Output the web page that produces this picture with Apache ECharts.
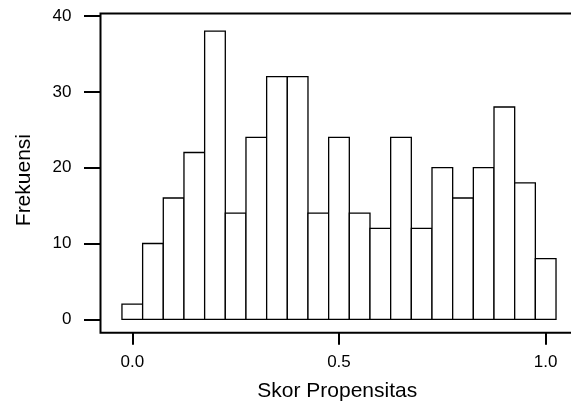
<!DOCTYPE html>
<html>
<head>
<meta charset="utf-8">
<script src="https://cdn.jsdelivr.net/npm/echarts@6/dist/echarts.min.js"></script>
<style>
html,body{margin:0;padding:0;background:#fff;}
#chart{width:571px;height:403px;}
</style>
</head>
<body>
<div id="chart"></div>
<script>
// ---- data ----
var binCenters = [0.00, 0.05, 0.10, 0.15, 0.20, 0.25, 0.30, 0.35, 0.40, 0.45, 0.50,
                  0.55, 0.60, 0.65, 0.70, 0.75, 0.80, 0.85, 0.90, 0.95, 1.00];
var counts = [2, 10, 16, 22, 38, 14, 24, 32, 32, 14, 24, 14, 12, 24, 12, 20, 16, 20, 28, 18, 8];
var binWidth = 0.05;
var yTicks = [0, 10, 20, 30, 40];
var xTicks = [0.0, 0.5, 1.0];
var xTitle = 'Skor Propensitas';
var yTitle = 'Frekuensi';

var seriesData = binCenters.map(function (c, i) {
  return [c - binWidth / 2, c + binWidth / 2, counts[i]];
});

var FONT = '"Liberation Sans", Arial, Helvetica, sans-serif';
var chart = echarts.init(document.getElementById('chart'), null, {renderer: 'canvas'});

chart.setOption({
  animation: false,
  backgroundColor: '#fff',
  grid: {
    left: 100.5, top: 13.5, width: 473.5, height: 319.2,
    outerBoundsMode: 'none', containLabel: false,
    show: true, borderColor: '#000', borderWidth: 2, backgroundColor: 'transparent'
  },
  xAxis: {
    type: 'value',
    min: -0.0769, max: 1.0685,
    splitLine: {show: false},
    axisLine: {show: false, onZero: false},
    axisTick: {show: true, customValues: xTicks, length: 12, lineStyle: {color: '#000', width: 2}},
    axisLabel: {
      customValues: xTicks, margin: 21, color: '#000', fontSize: 17, fontFamily: FONT,
      formatter: function (v) { return v.toFixed(1); }
    },
    name: xTitle, nameLocation: 'middle', nameGap: 48,
    nameTextStyle: {color: '#000', fontSize: 21, fontFamily: FONT}
  },
  yAxis: {
    type: 'value',
    min: -1.767, max: 40.33,
    splitLine: {show: false},
    axisLine: {show: false, onZero: false},
    axisTick: {show: true, customValues: yTicks, length: 16.5, lineStyle: {color: '#000', width: 2}},
    axisLabel: {
      customValues: yTicks, margin: 29, color: '#000', fontSize: 17, fontFamily: FONT
    },
    name: yTitle, nameLocation: 'middle', nameGap: 66,
    nameTextStyle: {color: '#000', fontSize: 21, fontFamily: FONT, padding: [0, 14, 0, 0]}
  },
  series: [{
    type: 'custom',
    data: seriesData,
    encode: {x: [0, 1], y: 2},
    renderItem: function (params, api) {
      var p0 = api.coord([api.value(0), api.value(2)]);
      var p1 = api.coord([api.value(1), 0]);
      return {
        type: 'rect',
        shape: {x: p0[0], y: p0[1], width: p1[0] - p0[0], height: p1[1] - p0[1]},
        style: {fill: '#fff', stroke: '#000', lineWidth: 1.3}
      };
    }
  }]
});
</script>
</body>
</html>
